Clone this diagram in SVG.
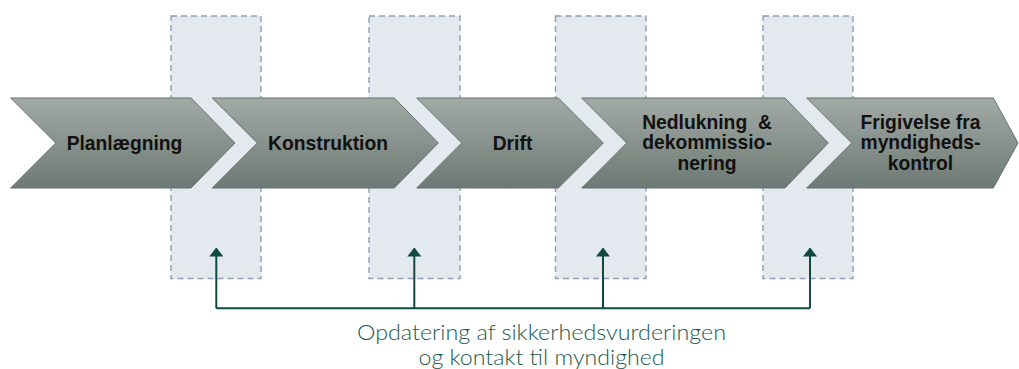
<svg xmlns="http://www.w3.org/2000/svg" width="1019" height="369" viewBox="0 0 1019 369">
<style>
.band{fill:#e4e9f0;stroke:#8e9fb7;stroke-width:1.4;stroke-dasharray:6 4}
.chev{fill:url(#g);stroke:#66706b;stroke-width:1}
.lbl{font-family:"Liberation Sans",Arial,sans-serif;font-weight:bold;font-size:19.3px;fill:#111;text-anchor:middle}
.conn{fill:none;stroke:#0e4a3f;stroke-width:2}
.note{font-family:Lato,"Open Sans",sans-serif;font-weight:300;font-size:21px;fill:#22594e;text-anchor:middle}
</style>
<defs>
<linearGradient id="g" x1="0" y1="0" x2="0" y2="1">
<stop offset="0" stop-color="#a2aaa6"/>
<stop offset="1" stop-color="#6d7974"/>
</linearGradient>
<marker id="ah" markerWidth="9" markerHeight="14" refX="8" refY="7" orient="auto" markerUnits="userSpaceOnUse" viewBox="0 0 9 14">
<path d="M0,0 L9,7 L0,14 Z" fill="#0e4a3f"/>
</marker>
</defs>
<g id="bands">
<rect class="band" x="171" y="16" width="90" height="262.5"/>
<rect class="band" x="369" y="16" width="91" height="262.5"/>
<rect class="band" x="555.5" y="16" width="90.5" height="262.5"/>
<rect class="band" x="763" y="16" width="90" height="262.5"/>
</g>
<g id="planlaegning">
<polygon class="chev" points="10.7,98 191,98 235,143 191,188 10.7,188 55.7,143"/>
<text class="lbl" x="124.5" y="150">Planlægning</text>
</g>
<g id="konstruktion">
<polygon class="chev" points="212.3,98 394.3,98 438.3,143 394.3,188 212.3,188 257.3,143"/>
<text class="lbl" x="328" y="150">Konstruktion</text>
</g>
<g id="drift">
<polygon class="chev" points="416.7,98 558.3,98 603.3,143 558.3,188 416.7,188 461.7,143"/>
<text class="lbl" x="512.5" y="150">Drift</text>
</g>
<g id="nedlukning">
<polygon class="chev" points="581.7,98 785,98 828.3,143 785,188 581.7,188 626.7,143"/>
<text class="lbl" x="707" y="128.5">Nedlukning&#160; &amp;</text>
<text class="lbl" x="707" y="149">dekommissio-</text>
<text class="lbl" x="707" y="169.5">nering</text>
</g>
<g id="frigivelse">
<polygon class="chev" points="806.7,98 993.3,98 1018,143 993.3,188 806.7,188 851.7,143"/>
<text class="lbl" x="920.5" y="128.5">Frigivelse fra</text>
<text class="lbl" x="920.5" y="149">myndigheds-</text>
<text class="lbl" x="920.5" y="169.5">kontrol</text>
</g>
<g id="connectors">
<path class="conn" d="M216.3,308.3 H810"/>
<path class="conn" d="M216.3,308.3 V248.5" marker-end="url(#ah)"/>
<path class="conn" d="M414.3,308.3 V248.5" marker-end="url(#ah)"/>
<path class="conn" d="M603,308.3 V248.5" marker-end="url(#ah)"/>
<path class="conn" d="M810,308.3 V248.5" marker-end="url(#ah)"/>
</g>
<g id="label">
<text class="note" x="541.5" y="340" textLength="369" lengthAdjust="spacingAndGlyphs">Opdatering af sikkerhedsvurderingen</text>
<text class="note" x="541.5" y="365" textLength="246" lengthAdjust="spacingAndGlyphs">og kontakt til myndighed</text>
</g>
</svg>
